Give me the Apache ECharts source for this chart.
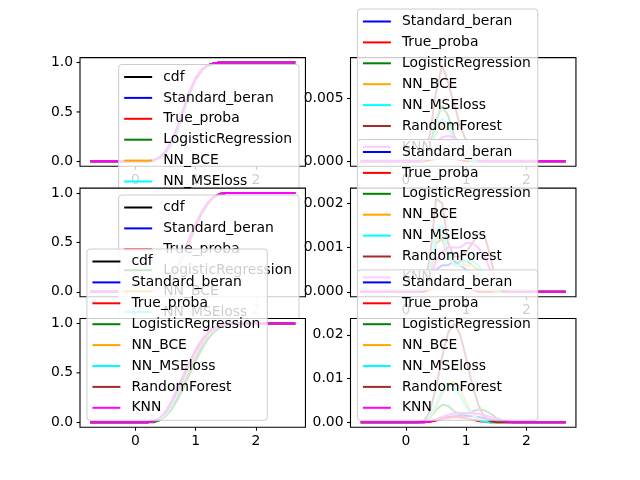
<!DOCTYPE html>
<html>
<head>
<meta charset="utf-8">
<script src="https://cdn.jsdelivr.net/npm/echarts@6/dist/echarts.min.js"></script>
<style>
  html, body { margin: 0; padding: 0; background: #fff; }
  #main { width: 640px; height: 480px; }
</style>
</head>
<body>
<div id="main"></div>
<script>
// x positions shared by every curve
var xs = [-0.75, 0.2, 0.3, 0.4, 0.5, 0.6, 0.7, 0.8, 0.9, 1.0, 1.1, 1.2, 1.3, 1.4, 1.5, 1.6, 1.7, 1.8, 2.65];

// left column, row 1 (cdf estimates)
var cdf1    = [0, 0, 0.01, 0.04, 0.09, 0.19, 0.33, 0.52, 0.70, 0.84, 0.93, 0.97, 0.99, 1, 1, 1, 1, 1, 1];
var beran1  = [0, 0, 0.01, 0.04, 0.10, 0.20, 0.34, 0.52, 0.69, 0.83, 0.92, 0.97, 0.99, 1, 1, 1, 1, 1, 1];
var true1   = [0, 0, 0.01, 0.04, 0.09, 0.19, 0.33, 0.52, 0.70, 0.84, 0.93, 0.97, 0.99, 1, 1, 1, 1, 1, 1];
var logreg1 = [0, 0, 0.01, 0.03, 0.08, 0.17, 0.31, 0.50, 0.69, 0.84, 0.93, 0.97, 0.99, 1, 1, 1, 1, 1, 1];
var bce1    = [0, 0, 0.01, 0.03, 0.08, 0.18, 0.32, 0.51, 0.70, 0.84, 0.93, 0.97, 0.99, 1, 1, 1, 1, 1, 1];
var mse1    = [0, 0, 0.01, 0.04, 0.09, 0.18, 0.32, 0.51, 0.70, 0.84, 0.93, 0.97, 0.99, 1, 1, 1, 1, 1, 1];
var rf1     = [0, 0, 0.01, 0.04, 0.10, 0.21, 0.36, 0.54, 0.71, 0.84, 0.93, 0.97, 0.99, 1, 1, 1, 1, 1, 1];
var knn1    = [0, 0, 0.01, 0.04, 0.10, 0.20, 0.35, 0.53, 0.71, 0.85, 0.93, 0.97, 0.99, 1, 1, 1, 1, 1, 1];

// left column, row 2
var cdf2    = [0, 0, 0.01, 0.03, 0.07, 0.14, 0.24, 0.37, 0.52, 0.67, 0.80, 0.90, 0.96, 0.99, 1, 1, 1, 1, 1];
var beran2  = [0, 0, 0.01, 0.03, 0.08, 0.15, 0.25, 0.38, 0.53, 0.67, 0.80, 0.90, 0.96, 0.99, 1, 1, 1, 1, 1];
var true2   = [0, 0, 0.01, 0.03, 0.07, 0.14, 0.24, 0.37, 0.52, 0.67, 0.80, 0.90, 0.96, 0.99, 1, 1, 1, 1, 1];
var logreg2 = [0, 0, 0.01, 0.03, 0.07, 0.13, 0.23, 0.36, 0.51, 0.66, 0.79, 0.89, 0.96, 0.99, 1, 1, 1, 1, 1];
var bce2    = [0, 0, 0.01, 0.03, 0.07, 0.14, 0.24, 0.37, 0.52, 0.67, 0.80, 0.90, 0.96, 0.99, 1, 1, 1, 1, 1];
var mse2    = [0, 0, 0.01, 0.03, 0.08, 0.15, 0.25, 0.38, 0.53, 0.68, 0.81, 0.90, 0.96, 0.99, 1, 1, 1, 1, 1];
var rf2     = [0, 0, 0.01, 0.04, 0.09, 0.16, 0.27, 0.40, 0.55, 0.69, 0.81, 0.90, 0.96, 0.99, 1, 1, 1, 1, 1];
var knn2    = [0, 0, 0.01, 0.04, 0.08, 0.16, 0.26, 0.39, 0.54, 0.68, 0.81, 0.90, 0.96, 0.99, 1, 1, 1, 1, 1];

// left column, row 3
var cdf3    = [0, 0, 0.01, 0.03, 0.08, 0.16, 0.27, 0.40, 0.54, 0.67, 0.79, 0.88, 0.94, 0.975, 0.99, 1, 1, 1, 1];
var beran3  = [0, 0, 0.01, 0.03, 0.08, 0.16, 0.28, 0.41, 0.55, 0.68, 0.79, 0.88, 0.94, 0.975, 0.99, 1, 1, 1, 1];
var true3   = [0, 0, 0.01, 0.03, 0.08, 0.16, 0.27, 0.40, 0.54, 0.67, 0.79, 0.88, 0.94, 0.975, 0.99, 1, 1, 1, 1];
var logreg3 = [0, 0, 0, 0.02, 0.06, 0.13, 0.23, 0.35, 0.49, 0.62, 0.74, 0.84, 0.91, 0.96, 0.985, 0.995, 1, 1, 1];
var bce3    = [0, 0, 0.01, 0.03, 0.08, 0.17, 0.29, 0.42, 0.56, 0.69, 0.80, 0.88, 0.94, 0.975, 0.99, 1, 1, 1, 1];
var mse3    = [0, 0, 0.01, 0.03, 0.08, 0.17, 0.29, 0.43, 0.57, 0.70, 0.81, 0.89, 0.94, 0.975, 0.99, 1, 1, 1, 1];
var rf3     = [0, 0, 0.01, 0.04, 0.10, 0.20, 0.32, 0.46, 0.60, 0.72, 0.82, 0.90, 0.95, 0.98, 0.99, 1, 1, 1, 1];
var knn3    = [0, 0, 0.01, 0.04, 0.11, 0.22, 0.35, 0.49, 0.62, 0.74, 0.84, 0.91, 0.96, 0.985, 0.995, 1, 1, 1, 1];

// right column, row 1 (errors)
var beranR1  = [0, 0, 0, 0.0005, 0.0012, 0.0016, 0.0017, 0.0014, 0.0009, 0.0004, 0.0001, 0, 0, 0, 0, 0, 0, 0, 0];
var trueR1   = [0, 0, 0, 0.0001, 0.0002, 0.0002, 0.0002, 0.0002, 0.0001, 0, 0, 0, 0, 0, 0, 0, 0, 0, 0];
var logregR1 = [0, 0, 0.0002, 0.0012, 0.0032, 0.0044, 0.0036, 0.0020, 0.0009, 0.0004, 0.0002, 0, 0, 0, 0, 0, 0, 0, 0];
var bceR1    = [0, 0, 0.0001, 0.0009, 0.0022, 0.0030, 0.0026, 0.0016, 0.0007, 0.0002, 0, 0, 0, 0, 0, 0, 0, 0, 0];
var mseR1    = [0, 0, 0.0001, 0.0010, 0.0026, 0.0034, 0.0028, 0.0017, 0.0008, 0.0003, 0, 0, 0, 0, 0, 0, 0, 0, 0];
var rfR1     = [0, 0, 0.0003, 0.0022, 0.0055, 0.0076, 0.0062, 0.0045, 0.0028, 0.0016, 0.0006, 0.0001, 0, 0, 0, 0, 0, 0, 0];
var knnR1    = [0, 0, 0.0002, 0.0008, 0.0015, 0.0019, 0.0020, 0.0019, 0.0015, 0.0009, 0.0004, 0.0001, 0, 0, 0, 0, 0, 0, 0];

// right column, row 2
var beranR2  = [0, 0, 0, 0.0002, 0.0005, 0.0006, 0.0006, 0.0007, 0.0006, 0.0005, 0.0004, 0.0003, 0.0002, 0.0001, 0, 0, 0, 0, 0];
var trueR2   = [0, 0, 0, 0.00005, 0.0001, 0.0001, 0.0001, 0.0001, 0.0001, 0.0001, 0.00005, 0, 0, 0, 0, 0, 0, 0, 0];
var logregR2 = [0, 0, 0.0001, 0.0004, 0.0011, 0.0012, 0.0008, 0.0006, 0.0007, 0.0007, 0.0006, 0.0005, 0.0003, 0.0001, 0, 0, 0, 0, 0];
var bceR2    = [0, 0, 0.0001, 0.0004, 0.0012, 0.0013, 0.0008, 0.0006, 0.0006, 0.0006, 0.0006, 0.0005, 0.0003, 0.0001, 0, 0, 0, 0, 0];
var mseR2    = [0, 0, 0.0001, 0.0005, 0.0014, 0.0015, 0.0009, 0.0006, 0.0006, 0.0007, 0.0007, 0.0006, 0.0004, 0.0002, 0.0001, 0, 0, 0, 0];
var rfR2     = [0, 0, 0.0001, 0.0008, 0.0021, 0.0020, 0.0011, 0.0008, 0.0008, 0.0009, 0.0011, 0.0013, 0.0013, 0.0008, 0.0002, 0, 0, 0, 0];
var knnR2    = [0, 0, 0.0001, 0.0003, 0.0007, 0.0009, 0.0010, 0.0010, 0.0010, 0.0011, 0.0011, 0.0010, 0.0008, 0.0005, 0.0002, 0.0001, 0, 0, 0];

// right column, row 3
var beranR3  = [0, 0, 0, 0.0002, 0.0005, 0.0009, 0.0012, 0.0014, 0.0015, 0.0015, 0.0014, 0.0012, 0.0009, 0.0006, 0.0003, 0.0001, 0, 0, 0];
var trueR3   = [0, 0, 0, 0.0001, 0.0004, 0.0008, 0.0010, 0.0012, 0.0011, 0.0009, 0.0006, 0.0003, 0.0001, 0, 0, 0, 0, 0, 0];
var logregR3 = [0, 0, 0.0001, 0.0010, 0.0028, 0.0040, 0.0037, 0.0025, 0.0017, 0.0019, 0.0025, 0.0029, 0.0028, 0.0020, 0.0010, 0.0004, 0.0001, 0, 0];
var bceR3    = [0, 0, 0.0001, 0.0010, 0.0035, 0.0065, 0.0088, 0.0092, 0.0075, 0.0045, 0.0020, 0.0007, 0.0002, 0, 0, 0, 0, 0, 0];
var mseR3    = [0, 0, 0.0002, 0.0014, 0.0042, 0.0072, 0.0089, 0.0082, 0.0060, 0.0035, 0.0016, 0.0005, 0.0001, 0, 0, 0, 0, 0, 0];
var rfR3     = [0, 0, 0.0003, 0.0025, 0.0080, 0.0150, 0.0205, 0.0226, 0.0200, 0.0145, 0.0085, 0.0040, 0.0012, 0.0002, 0, 0, 0, 0, 0];
var knnR3    = [0, 0, 0, 0.0002, 0.0006, 0.0012, 0.0017, 0.0020, 0.0021, 0.0021, 0.0021, 0.0019, 0.0016, 0.0012, 0.0008, 0.0004, 0.0001, 0, 0];

// tick labels
var xTicks = [0, 1, 2];
var leftTicks = [0, 1];
var leftMidTicks = [0.5];
var rightTicks1 = [0, 0.005];
var rightTicks2 = [0, 0.001, 0.002];
var rightTicks3 = [0, 0.01, 0.02];

var leftNames = ['cdf', 'Standard_beran', 'True_proba', 'LogisticRegression', 'NN_BCE', 'NN_MSEloss', 'RandomForest', 'KNN'];
var rightNames = ['Standard_beran', 'True_proba', 'LogisticRegression', 'NN_BCE', 'NN_MSEloss', 'RandomForest', 'KNN'];
var colorOf = {
  cdf: '#000000', Standard_beran: '#0000ff', True_proba: '#ff0000', LogisticRegression: '#008000',
  NN_BCE: '#ffa500', NN_MSEloss: '#00ffff', RandomForest: '#a52a2a', KNN: '#ff00ff'
};

// panels in matplotlib drawing order (row by row, left then right)
var panels = [
  { col: 0, row: 0, names: leftNames, data: [cdf1, beran1, true1, logreg1, bce1, mse1, rf1, knn1], ticks: leftTicks, mid: leftMidTicks, dec: 1, ymin: -0.05, ymax: 1.05, leg: { right: 341, top: 64.5 } },
  { col: 1, row: 0, names: rightNames, data: [beranR1, trueR1, logregR1, bceR1, mseR1, rfR1, knnR1], ticks: rightTicks1, dec: 3, ymin: -0.00039, ymax: 0.00819, leg: { left: 357.4, top: 9 } },
  { col: 0, row: 1, names: leftNames, data: [cdf2, beran2, true2, logreg2, bce2, mse2, rf2, knn2], ticks: leftTicks, mid: leftMidTicks, dec: 1, ymin: -0.05, ymax: 1.05, leg: { right: 341, top: 195 } },
  { col: 1, row: 1, names: rightNames, data: [beranR2, trueR2, logregR2, bceR2, mseR2, rfR2, knnR2], ticks: rightTicks2, dec: 3, ymin: -0.000112, ymax: 0.002342, leg: { left: 357.4, top: 139.5 } },
  { col: 0, row: 2, names: leftNames, data: [cdf3, beran3, true3, logreg3, bce3, mse3, rf3, knn3], ticks: leftTicks, mid: leftMidTicks, dec: 1, ymin: -0.05, ymax: 1.05, leg: { left: 86.9, top: 249 } },
  { col: 1, row: 2, names: rightNames, data: [beranR3, trueR3, logregR3, bceR3, mseR3, rfR3, knnR3], ticks: rightTicks3, dec: 2, ymin: -0.00113, ymax: 0.02373, leg: { left: 357.4, top: 269.9 } }
];

var xMin = -0.92, xMax = 2.82;
var colLeft = [80, 350.5], colW = 225.45;
var rowTop = [57.6, 188.1, 318.5], rowH = 108.7;
var font = 'DejaVu Sans', fs = 13.9;

var grids = [], xAxes = [], yAxes = [], series = [], legends = [];

function axisOf(extra, ticks, dec, z) {
  var ax = {
    type: 'value', z: z,
    axisLine: { show: false, onZero: false }, splitLine: { show: false },
    axisTick: { show: true, length: 3.5, customValues: ticks.slice(), lineStyle: { color: '#000', width: 1.1 } },
    axisLabel: {
      customValues: ticks.slice(), margin: 7, color: '#000', fontFamily: font, fontSize: fs, hideOverlap: false,
      formatter: function (v) { return Number(v).toFixed(dec); }
    }
  };
  Object.keys(extra).forEach(function (k) { ax[k] = extra[k]; });
  return ax;
}

panels.forEach(function (p, i) {
  var zb = i * 10;
  grids.push({
    left: colLeft[p.col], top: rowTop[p.row], width: colW, height: rowH,
    show: true, backgroundColor: '#fff', borderColor: '#000', borderWidth: 1.1, z: zb + 1
  });
  xAxes.push(axisOf({ gridIndex: i, min: xMin, max: xMax, position: 'bottom' }, xTicks, 0, zb + 3));
  yAxes.push(axisOf({ gridIndex: i, min: p.ymin, max: p.ymax, position: 'left' }, p.ticks, p.dec, zb + 3));

  p.names.forEach(function (name, k) {
    var vals = p.data[k];
    series.push({
      name: name, type: 'line', xAxisIndex: i, yAxisIndex: i, z: zb + 2,
      showSymbol: false, symbol: 'none', animation: false,
      itemStyle: { color: colorOf[name] },
      lineStyle: { color: colorOf[name], width: 2 },
      data: xs.map(function (x, j) { return [x, vals[j]]; })
    });
  });
  var leg = {
    data: p.names, orient: 'vertical', z: zb + 5, selectedMode: false,
    icon: 'rect', itemWidth: 28, itemHeight: 2, itemGap: 6.9,
    padding: [5.5, 7, 5.5, 5.5],
    backgroundColor: 'rgba(255,255,255,0.8)', borderColor: '#cccccc', borderWidth: 1, borderRadius: 3,
    textStyle: { fontFamily: font, fontSize: fs, color: '#000', padding: [0, 0, 0, 6] }
  };
  Object.keys(p.leg).forEach(function (k) { leg[k] = p.leg[k]; });
  legends.push(leg);
});

var myChart = echarts.init(document.getElementById('main'), null, { renderer: 'canvas' });
myChart.setOption({
  animation: false,
  backgroundColor: '#fff',
  grid: grids,
  xAxis: xAxes,
  yAxis: yAxes,
  legend: legends,
  series: series
});

// the middle 0.5 tick of the cdf panels gets dropped by the axis layout,
// so place it with the y axis' own scale
var midMarks = [];
panels.forEach(function (p, i) {
  if (!p.mid) return;
  p.mid.forEach(function (v) {
    var py = myChart.convertToPixel({ yAxisIndex: i }, v);
    var gx = colLeft[p.col];
    midMarks.push({
      type: 'line', z: 100, silent: true,
      shape: { x1: gx - 3.5, y1: py, x2: gx, y2: py },
      style: { stroke: '#000', lineWidth: 1.1 }
    });
    midMarks.push({
      type: 'text', z: 100, silent: true, x: gx - 7, y: py,
      style: { text: v.toFixed(p.dec), fill: '#000', font: fs + 'px "' + font + '"', align: 'right', verticalAlign: 'middle' }
    });
  });
});
myChart.setOption({ graphic: midMarks });
</script>
</body>
</html>
